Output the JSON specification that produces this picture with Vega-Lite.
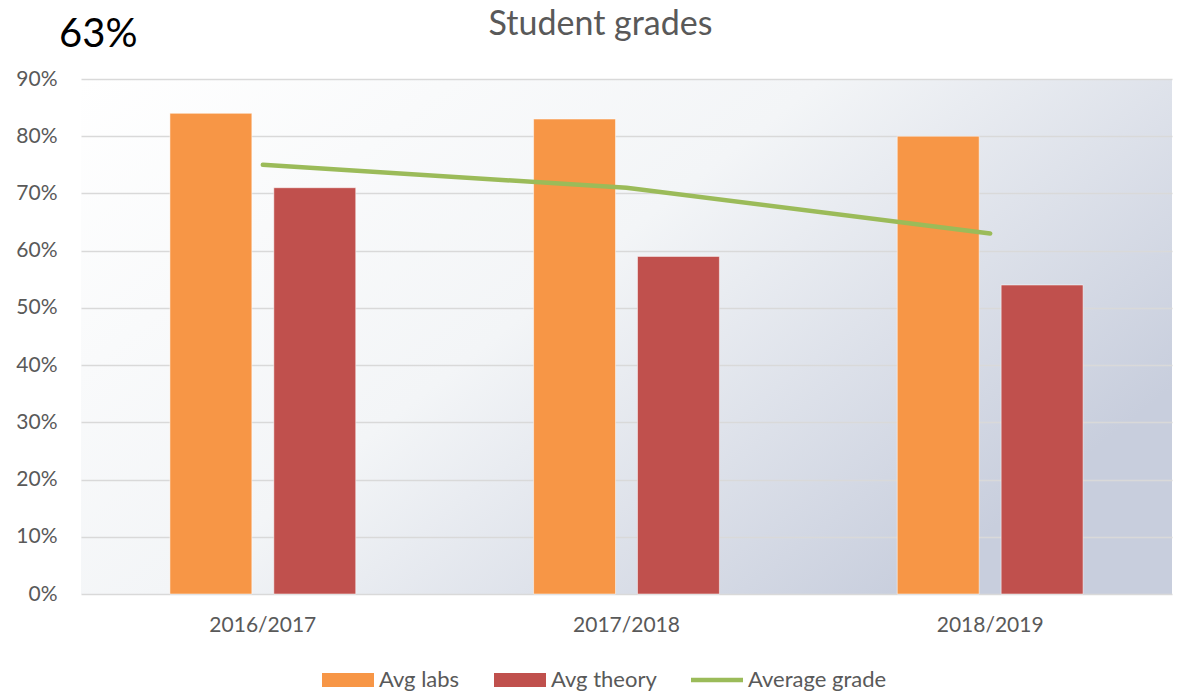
{
  "$schema": "https://vega.github.io/schema/vega-lite/v6.json",
  "width": 1091,
  "height": 515,
  "autosize": {"type": "none"},
  "padding": {"left": 81, "top": 79, "right": 11, "bottom": 98},
  "background": "#ffffff",
  "title": {
    "text": "Student grades",
    "fontSize": 34,
    "font": "Lato",
    "fontWeight": "normal",
    "color": "#595959",
    "offset": 0,
    "dy": 28,
    "dx": -26
  },
  "config": {
    "font": "Lato",
    "view": {
      "stroke": null,
      "fill": {
        "gradient": "linear",
        "x1": 0, "y1": 0, "x2": 1, "y2": 0.6,
        "stops": [
          {"offset": 0, "color": "#ffffff"},
          {"offset": 0.5, "color": "#f3f5f7"},
          {"offset": 1, "color": "#c8cedd"}
        ]
      }
    }
  },
  "data": {
    "values": [
      {"year": "2016/2017", "series": "Avg labs", "value": 0.84},
      {"year": "2016/2017", "series": "Avg theory", "value": 0.71},
      {"year": "2016/2017", "series": "Average grade", "value": 0.75},
      {"year": "2017/2018", "series": "Avg labs", "value": 0.83},
      {"year": "2017/2018", "series": "Avg theory", "value": 0.59},
      {"year": "2017/2018", "series": "Average grade", "value": 0.71},
      {"year": "2018/2019", "series": "Avg labs", "value": 0.80},
      {"year": "2018/2019", "series": "Avg theory", "value": 0.54},
      {"year": "2018/2019", "series": "Average grade", "value": 0.63}
    ]
  },
  "encoding": {
    "x": {
      "field": "year",
      "type": "nominal",
      "scale": {"paddingInner": 0, "paddingOuter": 0},
      "axis": {
        "title": null,
        "labelAngle": 0,
        "labelFontSize": 21,
        "labelColor": "#595959",
        "labelPadding": 20,
        "ticks": false,
        "domain": false
      }
    },
    "y": {
      "field": "value",
      "type": "quantitative",
      "scale": {"domain": [0, 0.9], "nice": false},
      "axis": {
        "values": [0, 0.1, 0.2, 0.3, 0.4, 0.5, 0.6, 0.7, 0.8, 0.9],
        "format": ".0%",
        "labelFontSize": 21,
        "labelColor": "#595959",
        "labelPadding": 24,
        "ticks": false,
        "domain": false,
        "gridColor": "#d9d9d9",
        "gridWidth": 1.5,
        "title": "63%",
        "titleAngle": 0,
        "titleAlign": "right",
        "titleBaseline": "alphabetic",
        "titleX": 56,
        "titleY": -33,
        "titleFontSize": 40,
        "titleFontWeight": "normal",
        "titleColor": "#000000"
      }
    },
    "color": {
      "field": "series",
      "type": "nominal",
      "scale": {
        "domain": ["Avg labs", "Avg theory", "Average grade"],
        "range": ["#F79646", "#C0504D", "#9BBB59"]
      },
      "legend": {
        "title": null,
        "orient": "none",
        "legendX": 241,
        "legendY": 575,
        "direction": "horizontal",
        "labelFontSize": 22,
        "labelColor": "#595959",
        "labelOffset": 5,
        "columnPadding": 34,
        "symbolSize": 2704,
        "symbolStrokeWidth": 0,
        "encode": {
          "symbols": {
            "update": {
              "shape": {"signal": "datum.value === 'Average grade' ? 'M-1,-0.09L1,-0.09L1,0.09L-1,0.09Z' : 'M-1,-0.27L1,-0.27L1,0.27L-1,0.27Z'"},
              "fill": {"signal": "scale('color', datum.value)"},
              "fillOpacity": {"value": 1},
              "strokeWidth": {"value": 0},
              "opacity": {"value": 1}
            }
          }
        }
      }
    }
  },
  "layer": [
    {
      "transform": [{"filter": "datum.series !== 'Average grade'"}],
      "mark": {"type": "bar", "stroke": "#ffffff", "strokeOpacity": 0.5, "strokeWidth": 1},
      "encoding": {
        "xOffset": {
          "field": "series",
          "type": "nominal",
          "scale": {"domain": ["Avg labs", "Avg theory"], "paddingInner": 0.2115, "paddingOuter": 0.856}
        }
      }
    },
    {
      "transform": [{"filter": "datum.series === 'Average grade'"}],
      "mark": {"type": "line", "strokeWidth": 4.5, "strokeCap": "round"},
      "encoding": {}
    }
  ]
}
